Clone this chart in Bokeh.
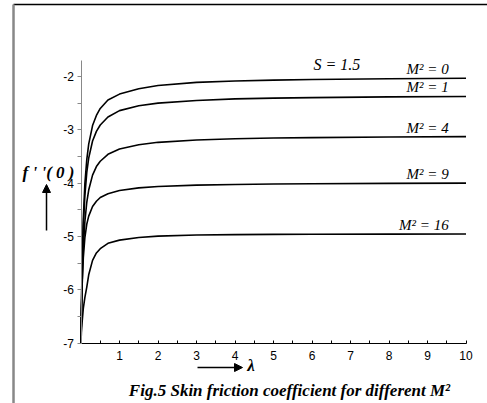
from bokeh.plotting import figure
from bokeh.models import Range1d, FixedTicker, Label, Arrow, NormalHead
from bokeh.embed import file_html
from bokeh.resources import INLINE

# lambda values (x)
lam = [0.0, 0.01, 0.03, 0.06, 0.1, 0.15, 0.2, 0.3, 0.4, 0.5, 0.7, 1.0,
       1.5, 2.0, 3.0, 4.0, 5.0, 6.0, 8.0, 10.0]

# f''(0) for each M^2
f_m0 = [-7.0, -6.36, -5.47, -4.66, -4.02, -3.56, -3.27, -2.92, -2.73, -2.60, -2.44, -2.33,
        -2.23, -2.17, -2.11, -2.084, -2.067, -2.056, -2.042, -2.034]
f_m1 = [-7.0, -6.39, -5.58, -4.82, -4.24, -3.80, -3.53, -3.21, -3.03, -2.91, -2.76, -2.64,
        -2.55, -2.50, -2.45, -2.42, -2.406, -2.396, -2.383, -2.375]
f_m4 = [-7.0, -6.51, -5.85, -5.22, -4.73, -4.36, -4.13, -3.85, -3.69, -3.59, -3.46, -3.36,
        -3.28, -3.235, -3.19, -3.169, -3.155, -3.146, -3.135, -3.128]
f_m9 = [-7.0, -6.52, -5.91, -5.40, -5.03, -4.77, -4.62, -4.44, -4.34, -4.27, -4.20, -4.14,
        -4.09, -4.063, -4.038, -4.025, -4.017, -4.011, -4.005, -4.001]
f_m16 = [-7.0, -6.80, -6.60, -6.35, -6.15, -5.95, -5.72, -5.45, -5.31, -5.23, -5.13, -5.07,
         -5.02, -4.995, -4.975, -4.967, -4.962, -4.96, -4.957, -4.955]

series = [f_m0, f_m1, f_m4, f_m9, f_m16]
m_labels = ["M\u00b2 = 0", "M\u00b2 = 1", "M\u00b2 = 4", "M\u00b2 = 9", "M\u00b2 = 16"]

x_ticks = [1, 2, 3, 4, 5, 6, 7, 8, 9, 10]
x_minor = [0.5, 1.5, 2.5, 3.5, 4.5, 5.5, 6.5, 7.5, 8.5, 9.5]
y_ticks = [-7, -6, -5, -4, -3, -2]
y_minor = [-6.5, -5.5, -4.5, -3.5, -2.5]

SERIF = "Liberation Serif"
SANS = "Liberation Sans"

# The plotting frame fills the whole canvas; axes are pinned at lambda=0 and f''=-7.
p = figure(width=487, height=403, output_backend="svg", toolbar_location=None,
           x_range=Range1d(-2.091, 10.558), y_range=Range1d(-8.135, -0.574),
           min_border=0)
p.outline_line_color = None
p.xgrid.visible = False
p.ygrid.visible = False
p.background_fill_color = "white"
p.border_fill_color = "white"

for ys in series:
    p.line(lam, ys, line_color="black", line_width=1.6)

# axes
xa = p.xaxis[0]
xa.fixed_location = y_ticks[0]
xa.bounds = (0, x_ticks[-1])
xa.ticker = FixedTicker(ticks=x_ticks, minor_ticks=x_minor)
xa.axis_line_color = "black"
xa.major_tick_line_color = "black"
xa.minor_tick_line_color = "black"
xa.major_tick_in = 3
xa.major_tick_out = 0
xa.minor_tick_in = 3
xa.minor_tick_out = 0
xa.major_label_standoff = 8
xa.major_label_text_font = SANS
xa.major_label_text_font_size = "12px"
xa.major_label_text_color = "black"

ya = p.yaxis[0]
ya.fixed_location = 0
ya.bounds = (y_ticks[0], -1.7)
ya.ticker = FixedTicker(ticks=y_ticks, minor_ticks=y_minor)
ya.major_label_overrides = {t: str(t) for t in y_ticks}
ya.axis_line_color = "#888888"
ya.major_tick_line_color = "#888888"
ya.minor_tick_line_color = "#888888"
ya.major_tick_in = 0
ya.major_tick_out = 4
ya.minor_tick_in = 0
ya.minor_tick_out = 4
ya.major_label_standoff = 3
ya.major_label_text_font = SANS
ya.major_label_text_font_size = "12px"
ya.major_label_text_color = "black"

# curve labels
for ys, lab in zip(series, m_labels):
    p.add_layout(Label(x=9.55, y=ys[-1], text=lab, text_align="right", text_baseline="bottom",
                       y_offset=1, text_font=SERIF, text_font_style="italic",
                       text_font_size="15px", text_color="black"))

p.add_layout(Label(x=6.04, y=-1.77, text="S = 1.5", text_align="left", text_baseline="alphabetic",
                   text_font=SERIF, text_font_style="italic", text_font_size="16px",
                   text_color="black"))

# y label and arrow
p.add_layout(Label(x=-0.844, y=-3.80, text="f ' '( 0 )", text_align="center",
                   text_baseline="alphabetic", text_font=SERIF,
                   text_font_style="bold italic", text_font_size="17px", text_color="black"))
p.add_layout(Arrow(x_start=-0.896, y_start=-4.889, x_end=-0.896, y_end=-4.026,
                   line_color="black", line_width=1.5,
                   end=NormalHead(size=8, fill_color="black", line_color="black")))

# x label and arrow
p.add_layout(Arrow(x_start=3.026, y_start=-7.46, x_end=4.195, y_end=-7.46,
                   line_color="black", line_width=1.5,
                   end=NormalHead(size=8, fill_color="black", line_color="black")))
p.add_layout(Label(x=4.32, y=-7.42, text="\u03bb", text_align="left", text_baseline="middle",
                   text_font=SERIF, text_font_style="bold italic", text_font_size="17px",
                   text_color="black"))

# caption
p.add_layout(Label(x=5.416, y=-7.89, text="Fig.5 Skin friction coefficient for different M\u00b2",
                   text_align="center", text_baseline="alphabetic", text_font=SERIF,
                   text_font_style="bold italic", text_font_size="17px", text_color="black"))

# page frame lines
p.add_layout(Arrow(x_start=-1.753, y_start=-0.649, x_end=10.6, y_end=-0.649, end=None,
                   line_color="black", line_width=1.5))
p.add_layout(Arrow(x_start=-1.753, y_start=-0.649, x_end=-1.753, y_end=-8.2, end=None,
                   line_color="#888888", line_width=2.5))

open("out.html", "w").write(file_html(p, INLINE))
